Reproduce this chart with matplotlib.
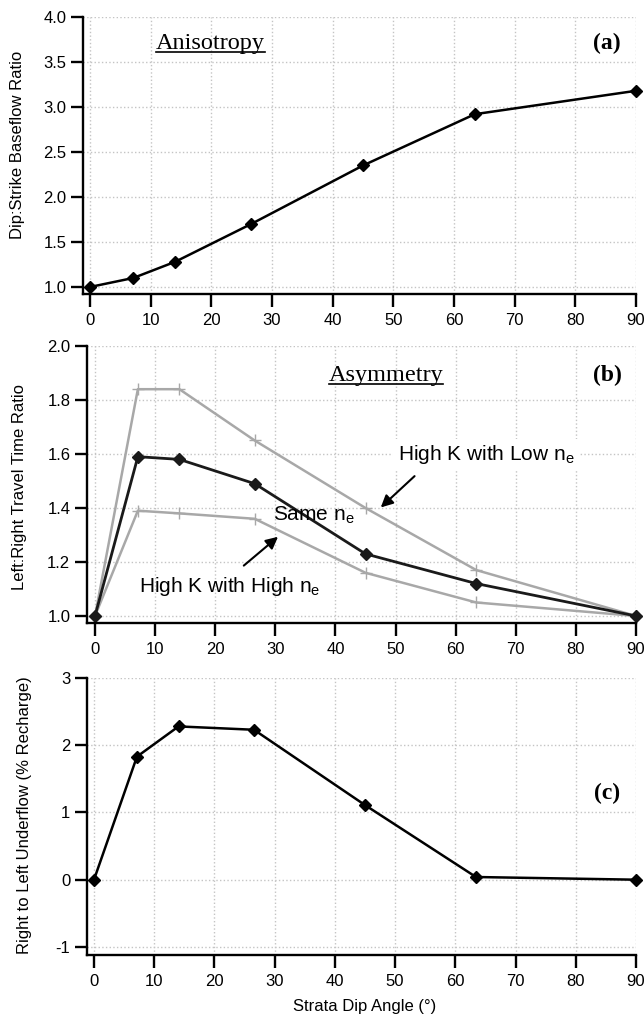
import numpy as np
import matplotlib
matplotlib.use("Agg")
from matplotlib import pyplot as plt

# strata dip angles (deg)
angle = [0, 7.13, 14.04, 26.57, 45.0, 63.43, 90.0]

# (a) anisotropy
dip_strike = [1.00, 1.10, 1.28, 1.70, 2.35, 2.92, 3.18]

# (b) asymmetry
same_ne = [1.00, 1.59, 1.58, 1.49, 1.23, 1.12, 1.00]
low_ne = [1.00, 1.84, 1.84, 1.65, 1.40, 1.17, 1.00]
high_ne = [1.00, 1.39, 1.38, 1.36, 1.16, 1.05, 1.00]

# (c) underflow
underflow = [0.00, 1.83, 2.28, 2.23, 1.11, 0.04, 0.00]

W, H = 644, 1018
plt.rcParams["font.family"] = ["Liberation Sans", "DejaVu Sans"]
plt.rcParams["mathtext.fontset"] = "custom"
plt.rcParams["mathtext.rm"] = "Liberation Sans"
plt.rcParams["mathtext.it"] = "Liberation Sans"

fig = plt.figure(figsize=(W / 100, H / 100), dpi=100)


def px_axes(left, right, top, bottom):
    return fig.add_axes([left / W, 1 - bottom / H, (right - left) / W, (bottom - top) / H])


def style(ax, x0px, spine_px, right_px, yticks, ylo, yhi, fmt):
    per = (right_px - x0px) / 90.0
    ax.set_xlim(-(x0px - spine_px) / per, 90)
    ax.set_ylim(ylo, yhi)
    ax.set_xticks(np.arange(0, 91, 10))
    ax.set_yticks(yticks)
    ax.set_yticklabels([fmt % v for v in yticks])
    for s in ["top", "right"]:
        ax.spines[s].set_visible(False)
    for s in ["left", "bottom"]:
        ax.spines[s].set_linewidth(1.7)
    ax.tick_params(direction="out", length=9, width=1.7, labelsize=12)
    ax.tick_params(axis="x", pad=5)
    ax.tick_params(axis="y", pad=3)
    ax.grid(True, color="#c4c4c4", linestyle=":", linewidth=1.0)
    ax.set_axisbelow(True)


# panel (a)
ax1 = px_axes(83, 636, 17, 294)
style(ax1, 90, 83, 636, [1.0, 1.5, 2.0, 2.5, 3.0, 3.5, 4.0], 0.922, 4.0, "%.1f")
ax1.plot(angle, dip_strike, color="black", lw=1.8, marker="D", ms=6, clip_on=False)
fig.text(18 / W, 1 - 145 / H, "Dip:Strike Baseflow Ratio", rotation=90,
         ha="center", va="center", fontsize=12)

# panel (b)
ax2 = px_axes(87, 636, 346, 623)
style(ax2, 95, 87, 636, [1.0, 1.2, 1.4, 1.6, 1.8, 2.0], 0.974, 2.0, "%.1f")
ax2.plot(angle, low_ne, color="#a8a8a8", lw=1.8, marker="+", ms=8, clip_on=False)
ax2.plot(angle, high_ne, color="#a8a8a8", lw=1.8, marker="+", ms=8, clip_on=False)
ax2.plot(angle, same_ne, color="#1a1a1a", lw=2.0, marker="D", ms=6, clip_on=False)
fig.text(20 / W, 1 - 487 / H, "Left:Right Travel Time Ratio", rotation=90,
         ha="center", va="center", fontsize=12)

fig.text(486 / W, 1 - 455 / H, "High K with Low n$_\\mathrm{e}$",
         ha="center", va="center", fontsize=15,
         bbox=dict(facecolor="white", edgecolor="none", pad=3))
fig.text(314 / W, 1 - 515 / H, "Same n$_\\mathrm{e}$",
         ha="center", va="center", fontsize=15)
fig.text(230 / W, 1 - 587 / H, "High K with High n$_\\mathrm{e}$",
         ha="center", va="center", fontsize=15)
ax2.annotate("", xy=(47.2, 1.395), xytext=(53.5, 1.525),
             arrowprops=dict(arrowstyle="-|>", color="black", lw=1.5, mutation_scale=18))
ax2.annotate("", xy=(30.8, 1.30), xytext=(24.4, 1.18),
             arrowprops=dict(arrowstyle="-|>", color="black", lw=1.5, mutation_scale=18))

# panel (c)
ax3 = px_axes(87, 636, 678, 955)
style(ax3, 94, 87, 636, [-1, 0, 1, 2, 3], -1.12, 3.0, "%d")
ax3.plot(angle, underflow, color="black", lw=1.8, marker="D", ms=6, clip_on=False)
fig.text(25 / W, 1 - 815 / H, "Right to Left Underflow (% Recharge)", rotation=90,
         ha="center", va="center", fontsize=12)
fig.text(365 / W, 1 - 1007 / H, "Strata Dip Angle (°)", ha="center", va="center", fontsize=12)

# serif panel tags and underlined titles
for y, tag in [(43, "(a)"), (375, "(b)"), (793, "(c)")]:
    fig.text(607 / W, 1 - y / H, tag, ha="center", va="center", fontsize=17,
             fontweight="bold", family="Liberation Serif")

titles = []
for x, y, t in [(210, 43, "Anisotropy"), (386, 376, "Asymmetry")]:
    titles.append(fig.text(x / W, 1 - y / H, t, ha="center", va="center",
                           fontsize=17.5, family="Liberation Serif"))
fig.canvas.draw()
r = fig.canvas.get_renderer()
for t in titles:
    bb = t.get_window_extent(r)
    fig.add_artist(plt.Line2D([bb.x0 / W, bb.x1 / W], [(bb.y0 + 2) / H, (bb.y0 + 2) / H],
                              color="black", lw=1.2, transform=fig.transFigure))

fig.savefig("out.png", dpi=100)
